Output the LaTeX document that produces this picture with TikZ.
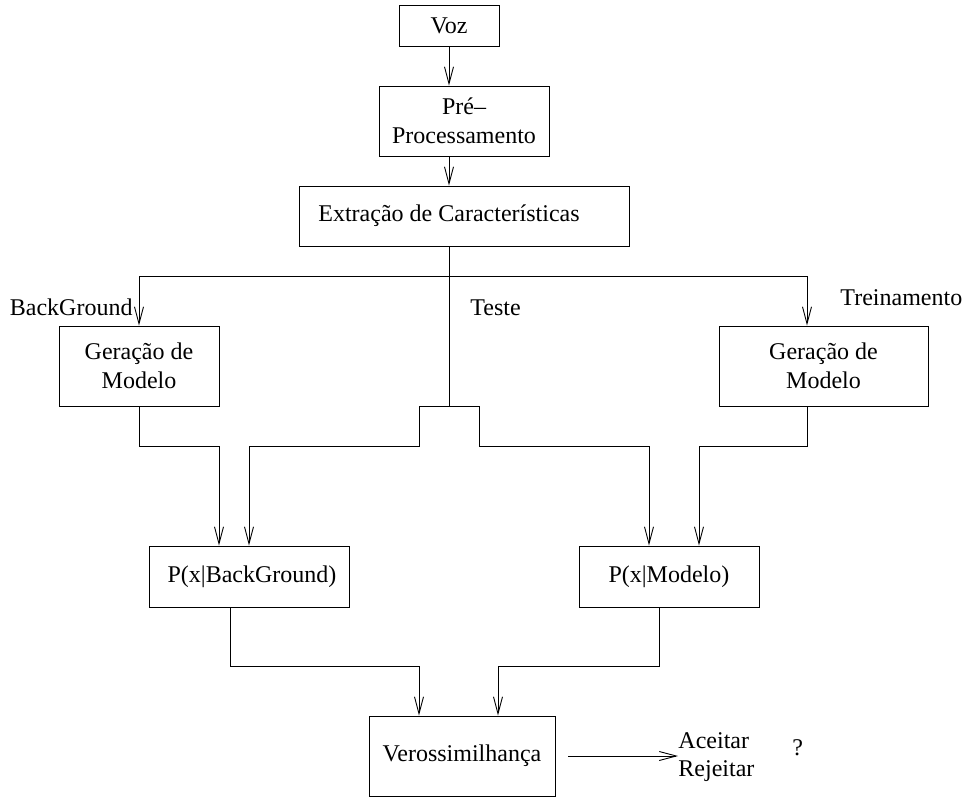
\documentclass[tikz,border=0pt]{standalone}
\usepackage{fontspec}
\setmainfont{Liberation Serif}
\usetikzlibrary{arrows.meta}
\tikzset{
  bloco/.style={draw, rectangle, inner sep=0pt, align=center},
  seta/.style={-{Straight Barb[length=17pt,width=9pt]}},
  rotulo/.style={inner sep=0pt}
}
\begin{document}
\begin{tikzpicture}[x=1pt,y=-1pt,line width=0.9pt,font=\fontsize{24}{29}\selectfont]
\useasboundingbox (0,0) rectangle (964,797);
% blocos
\node[bloco,minimum width=100,minimum height=41] (voz) at (449,25.5) {Voz};
\node[bloco,minimum width=170,minimum height=70] (pre) at (464,121) {Pré–\\Processamento};
\node[bloco,minimum width=330,minimum height=60] (extr) at (464,216) {Extração de Características\hspace*{30pt}};
\node[bloco,minimum width=160,minimum height=80] (gerbg) at (139,366) {Geração de\\Modelo};
\node[bloco,minimum width=209,minimum height=80] (gertr) at (823.5,366) {Geração de\\Modelo};
\node[bloco,minimum width=200,minimum height=61] (pbg) at (249,576.5) {\hspace*{6pt}P(x|BackGround)};
\node[bloco,minimum width=180,minimum height=61] (pmod) at (669,576.5) {P(x|Modelo)};
\node[bloco,minimum width=186,minimum height=80] (veros) at (462,756) {Verossimilhança};
% rotulos
\node[rotulo,anchor=base east] (lbg) at (133,315) {BackGround};
\node[rotulo,anchor=base west] (lte) at (470,315) {Teste};
\node[rotulo,anchor=base west] (ltr) at (840,305) {Treinamento};
\node[rotulo,anchor=west,align=left,font=\fontsize{24}{28}\selectfont] (dec) at (678,757) {Aceitar\\Rejeitar};
\node[rotulo,anchor=base west] (quest) at (792,755) {?};
% ligacoes
\coordinate (bus) at (449,276);
\coordinate (jog) at (449,406);
\draw[seta] (voz.south) -- (voz.south |- pre.north);
\draw[seta] (pre.south -| voz.south) -- (extr.north -| voz.south);
\draw (extr.south -| voz.south) -- (jog);
\draw[seta] (bus) -| (gerbg.north);
\draw[seta] (bus) -| ([xshift=-16.5pt]gertr.north);
\draw[seta] (jog) -- (419,406) -- (419,446) -| (pbg.north);
\draw[seta] (jog) -- (479,406) -- (479,446) -| ([xshift=-20pt]pmod.north);
\draw[seta] (gerbg.south) -- (139,446) -| ([xshift=-30pt]pbg.north);
\draw[seta] ([xshift=-16.5pt]gertr.south) -- (807,446) -| ([xshift=30pt]pmod.north);
\draw[seta] ([xshift=-19pt]pbg.south) -- (230,666) -| ([xshift=-43pt]veros.north);
\draw[seta] ([xshift=-10pt]pmod.south) -- (659,666) -| ([xshift=36pt]veros.north);
\draw[seta] ([xshift=13pt]veros.east) -- (veros.east -| dec.west);
\end{tikzpicture}
\end{document}
